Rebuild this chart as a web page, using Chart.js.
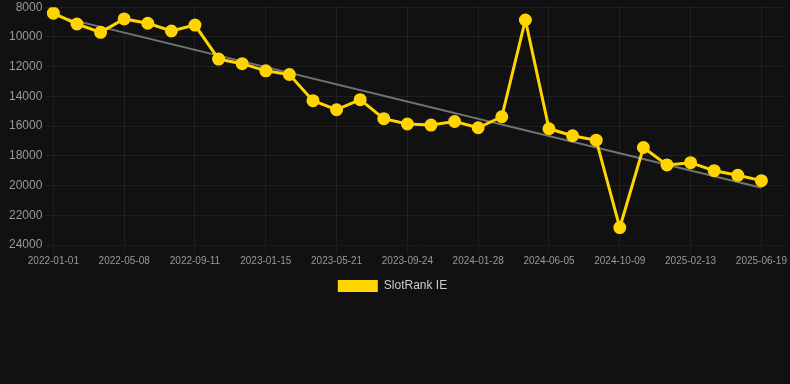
<!DOCTYPE html>
<html>
<head>
<meta charset="utf-8">
<script src="https://cdn.jsdelivr.net/npm/chart.js@4.4.1/dist/chart.umd.min.js"></script>
<style>
  html, body { margin: 0; padding: 0; background: #111111; }
  #wrap { width: 790px; height: 302px; }
</style>
</head>
<body>
<div id="wrap"><canvas id="myChart"></canvas></div>
<script>
// fechas (una cada ~6 semanas), la ultima va vacia
const dates = [
    '2022-01-01', '2022-02-12', '2022-03-26', '2022-05-08', '2022-06-19', '2022-07-31',
    '2022-09-11', '2022-10-23', '2022-12-04', '2023-01-15', '2023-02-26', '2023-04-09',
    '2023-05-21', '2023-07-02', '2023-08-13', '2023-09-24', '2023-11-05', '2023-12-17',
    '2024-01-28', '2024-03-11', '2024-04-23', '2024-06-05', '2024-07-17', '2024-08-28',
    '2024-10-09', '2024-11-20', '2025-01-01', '2025-02-13', '2025-03-27', '2025-05-08',
    '2025-06-19', '2025-07-31'
];

// posicion en el ranking
const rank = [
    8400, 9130, 9690, 8790, 9080, 9600, 9200, 11490, 11800, 12280, 12530, 14290,
    14900, 14220, 15500, 15860, 15930, 15690, 16110, 15370, 8860, 16180, 16650, 16950,
    22830, 17440, 18610, 18460, 19000, 19310, 19670, null
];

// linea de tendencia, solo los extremos
const trendStart = 8550;
const trendEnd = 20150;
const trend = dates.map((d, i) => i === 0 ? trendStart : (i === 30 ? trendEnd : null));

const yTicks = [8000, 10000, 12000, 14000, 16000, 18000, 20000, 22000, 24000];

const gridColor = 'rgba(255,255,255,0.06)';

const ctx = document.getElementById('myChart').getContext('2d');
const chart = new Chart(ctx, {
    type: 'line',
    data: {
        labels: dates,
        datasets: [
            {
                label: 'SlotRank IE',
                data: rank,
                borderColor: '#FFD400',
                backgroundColor: '#FFD400',
                borderWidth: 3,
                pointRadius: 5,
                pointHoverRadius: 6,
                tension: 0
            },
            {
                label: 'trend',
                data: trend,
                borderColor: 'rgba(140,140,140,0.8)',
                borderWidth: 2,
                pointRadius: 0,
                spanGaps: true
            }
        ]
    },
    options: {
        responsive: true,
        maintainAspectRatio: false,
        animation: false,
        layout: { autoPadding: false, padding: { top: 0, right: 5, bottom: 0, left: 0 } },
        plugins: {
            legend: {
                position: 'bottom',
                labels: {
                    color: '#cccccc',
                    padding: 11,
                    font: { size: 12 },
                    filter: item => item.text !== 'trend',
                    generateLabels: function(chart) {
                        const items = Chart.defaults.plugins.legend.labels.generateLabels(chart);
                        items.forEach(it => { it.lineWidth = 0; });
                        return items;
                    }
                }
            },
            tooltip: { enabled: false }
        },
        scales: {
            x: {
                ticks: {
                    autoSkip: false,
                    maxRotation: 0,
                    padding: 2,
                    color: '#999999',
                    font: { size: 10 },
                    callback: function(value, index) {
                        return index % 3 === 0 ? this.getLabelForValue(value) : '';
                    }
                },
                grid: {
                    color: c => (c.index % 3 === 0 ? gridColor : 'rgba(0,0,0,0)')
                }
            },
            y: {
                reverse: true,
                min: 8000,
                max: 24000,
                afterBuildTicks: axis => { axis.ticks = yTicks.map(v => ({ value: v })); },
                afterFit: axis => { axis.width += 6; },
                ticks: {
                    color: '#999999',
                    font: { size: 12, lineHeight: 0.7 },
                    callback: v => String(v)
                },
                grid: { color: gridColor }
            }
        }
    }
});
</script>
</body>
</html>
